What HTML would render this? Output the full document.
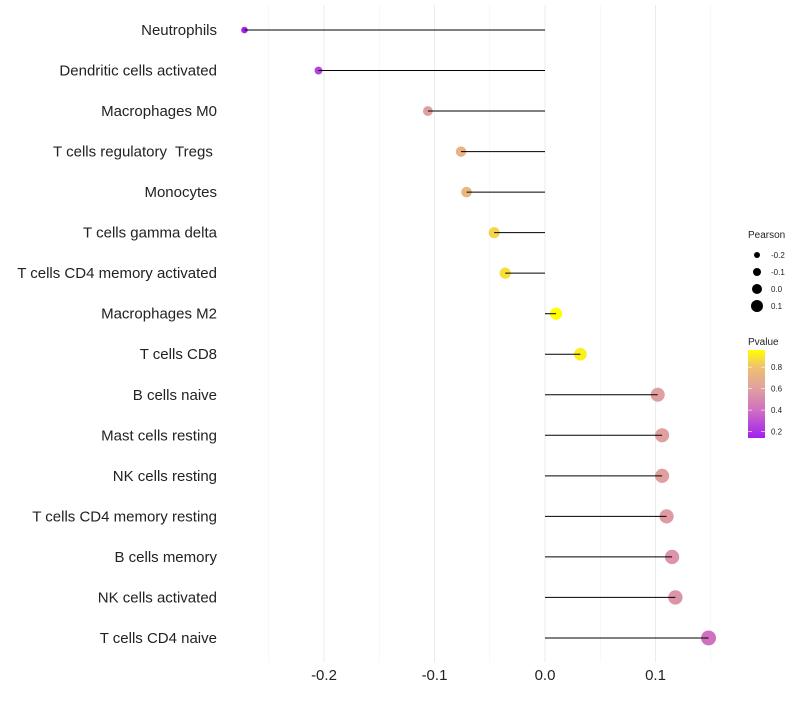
<!DOCTYPE html>
<html><head><meta charset="utf-8"><style>
body{margin:0;background:#fff;font-family:"Liberation Sans",sans-serif;}
text{white-space:pre;}
</style></head><body>
<svg id="chart" width="800" height="700"></svg>
<script>
const categories=["Neutrophils","Dendritic cells activated","Macrophages M0","T cells regulatory  Tregs ","Monocytes","T cells gamma delta","T cells CD4 memory activated","Macrophages M2","T cells CD8","B cells naive","Mast cells resting","NK cells resting","T cells CD4 memory resting","B cells memory","NK cells activated","T cells CD4 naive"];
const pearson=[-0.272,-0.205,-0.106,-0.076,-0.071,-0.046,-0.036,0.010,0.032,0.102,0.106,0.106,0.110,0.115,0.118,0.148];
const pvalues=[0.15,0.25,0.6,0.72,0.73,0.85,0.88,0.97,0.92,0.6,0.6,0.6,0.58,0.55,0.55,0.4];
const xTicks=[-0.2,-0.1,0.0,0.1];
const xTickLabels=["-0.2","-0.1","0.0","0.1"];
const sizeLegend=[-0.2,-0.1,0.0,0.1];
const colorLegend=[0.2,0.4,0.6,0.8];

const NS="http://www.w3.org/2000/svg";
const svg=document.getElementById('chart');
function mk(t,a,p){const e=document.createElementNS(NS,t);for(const k in a)e.setAttribute(k,a[k]);(p||svg).appendChild(e);return e;}
const x=v=>545+v*1105;
const y=i=>30+i*40.53;
const r=v=>6+10*v;
const stops=[[0.14,[160,32,240]],[0.4,[208,112,192]],[0.6,[224,160,160]],[0.8,[240,192,112]],[0.96,[255,255,0]]];
function col(p){p=Math.max(0.14,Math.min(0.96,p));for(let i=0;i<stops.length-1;i++){const a=stops[i],b=stops[i+1];if(p<=b[0]){const t=(p-a[0])/(b[0]-a[0]);const c=a[1].map((v,j)=>Math.round(v+(b[1][j]-v)*t));return `rgb(${c})`;}}return 'rgb(255,255,0)';}

for(let v=-0.25;v<=0.151;v+=0.05){const g=mk('line',{x1:x(v),x2:x(v),y1:5,y2:662,stroke:Math.abs(Math.round(v*100)%10)===5?'#f3f3f3':'#ebebeb','stroke-width':Math.abs(Math.round(v*100)%10)===5?0.6:1});

}
xTicks.forEach((v,i)=>{const t=mk('text',{x:x(v),y:680,'text-anchor':'middle','font-size':15,fill:'#222'});t.textContent=xTickLabels[i];

});

categories.forEach((c,i)=>{
 const t=mk('text',{x:217,y:y(i)+5,'text-anchor':'end','font-size':15,fill:'#222'});t.textContent=c;
 
 
 const d=mk('circle',{cx:x(pearson[i]),cy:y(i),r:r(pearson[i]),fill:col(pvalues[i])});
 
 
 const l=mk('line',{x1:x(0),x2:x(pearson[i]),y1:y(i),y2:y(i),stroke:'#000','stroke-width':1});
 
 
});

const st=mk('text',{x:748,y:238,'font-size':10,fill:'#222'});st.textContent='Pearson';


sizeLegend.forEach((v,i)=>{const cy=255+i*17;
 const c=mk('circle',{cx:757,cy:cy,r:r(v)-1,fill:'#000'});
 
 
 const t=mk('text',{x:771,y:cy+3,'font-size':8,fill:'#222'});t.textContent=v.toFixed(1);
 
 });

const ct=mk('text',{x:748,y:345,'font-size':10,fill:'#222'});ct.textContent='Pvalue';


const defs=mk('defs',{});const lg=mk('linearGradient',{id:'pg',x1:0,y1:1,x2:0,y2:0},defs);
stops.forEach(s=>mk('stop',{offset:(s[0]-0.14)/0.82,'stop-color':`rgb(${s[1]})`},lg));
const bar=mk('rect',{x:748,y:350,width:17,height:88,fill:'url(#pg)'});


const py=p=>438-(p-0.14)/0.82*88;
colorLegend.forEach(v=>{
 mk('line',{x1:748,x2:752,y1:py(v),y2:py(v),stroke:'#fff','stroke-width':0.6});
 mk('line',{x1:761,x2:765,y1:py(v),y2:py(v),stroke:'#fff','stroke-width':0.6});
 const t=mk('text',{x:771,y:py(v)+3,'font-size':8,fill:'#222'});t.textContent=v.toFixed(1);
 
 });
</script>
</body></html>
